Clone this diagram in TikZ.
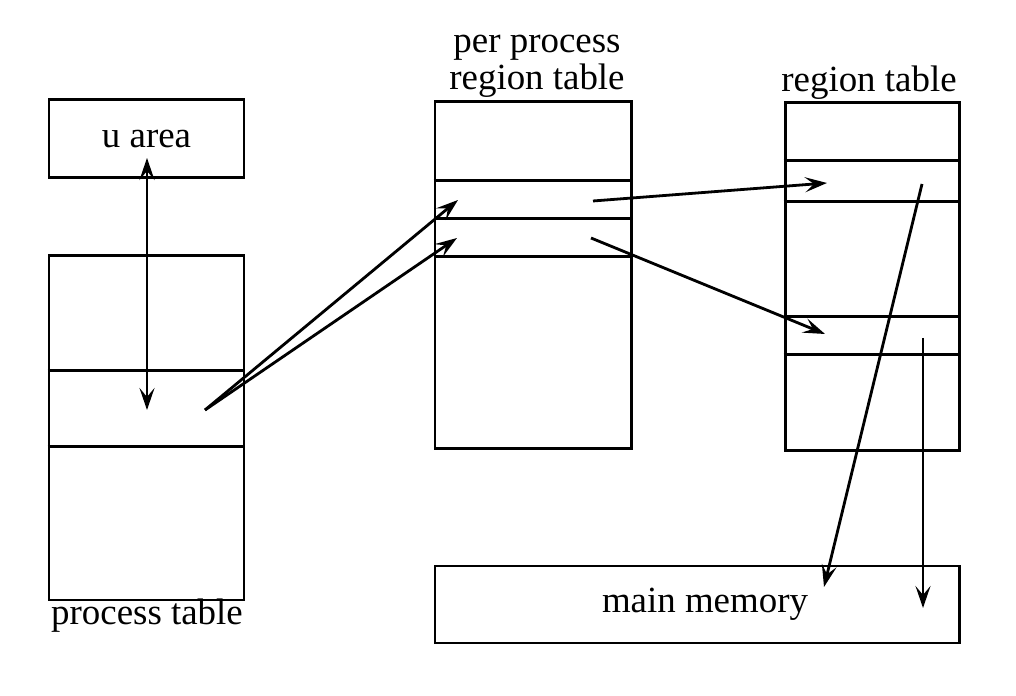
\documentclass[tikz,border=0pt]{standalone}
\usepackage{fontspec}
\setmainfont{Liberation Serif}
\usetikzlibrary{arrows.meta}
\tikzset{
  tbl/.style={draw, rectangle, inner sep=0, line width=0.85pt},
  lbl/.style={inner sep=0, font=\fontsize{10.5}{10.5}\selectfont},
  ptip/.tip={Stealth[length=2.2mm, width=1.5mm, inset=0.9mm]},
  ptr/.style={line width=0.8pt, -{ptip}},
  dptr/.style={line width=0.8pt, {ptip}-{ptip}},
}

\begin{document}
\begin{tikzpicture}
			%%%%% START %%%%%
			\useasboundingbox (0, 0) rectangle (10.16, 6.96);
			
			\node[tbl, lbl, minimum width=1.95cm, minimum height=0.78cm] (uarea) at (1.465, 5.57) {u area};
			
			\node[tbl, minimum width=1.95cm, minimum height=3.44cm] (ptab) at (1.465, 2.68) {};
			\draw[line width=0.85pt] (ptab.west |- 0, 3.25) -- (ptab.east |- 0, 3.25);
			\draw[line width=0.85pt] (ptab.west |- 0, 2.49) -- (ptab.east |- 0, 2.49);
			\node[lbl, anchor=base] (ptablbl) at (1.47, 0.71) {process table};
			
			\node[tbl, minimum width=1.96cm, minimum height=3.47cm] (preg) at (5.33, 4.205) {};
			\foreach \y in {5.15, 4.77, 4.39}
				\draw[line width=0.85pt] (preg.west |- 0, \y) -- (preg.east |- 0, \y);
			\node[lbl, align=center, anchor=south] (preglbl) at (5.37, 5.98) {per process\\region table};
			
			\node[tbl, minimum width=1.74cm, minimum height=3.48cm] (rtab) at (8.72, 4.19) {};
			\foreach \y in {5.35, 4.94, 3.79, 3.41}
				\draw[line width=0.85pt] (rtab.west |- 0, \y) -- (rtab.east |- 0, \y);
			\node[lbl, anchor=base] (rtablbl) at (8.69, 6.04) {region table};
			
			\node[tbl, lbl, minimum width=5.24cm, minimum height=0.77cm] (mem) at (6.97, 0.915) {\hspace{0.16cm}main memory};
			
			% ends of the pointers
			\coordinate (uslot) at (1.47, 5.38);
			\coordinate (pslot) at (1.47, 2.86);
			\coordinate (pslotr) at (2.05, 2.86);
			\coordinate (text) at (4.58, 4.96);
			\coordinate (data) at (4.57, 4.58);
			\coordinate (textr) at (5.93, 4.95);
			\coordinate (datar) at (5.91, 4.58);
			\coordinate (rtext) at (8.27, 5.13);
			\coordinate (rdata) at (8.25, 3.62);
			\coordinate (rtextr) at (9.22, 5.12);
			\coordinate (rdatar) at (9.23, 3.58);
			\coordinate (mtext) at (8.24, 1.09);
			\coordinate (mdata) at (9.23, 0.88);
			
			\draw[dptr] (uslot) -- (pslot);
			\draw[ptr] (pslotr) -- (text);
			\draw[ptr] (pslotr) -- (data);
			\draw[ptr] (textr) -- (rtext);
			\draw[ptr] (datar) -- (rdata);
			\draw[ptr] (rtextr) -- (mtext);
			\draw[ptr] (rdatar) -- (mdata);
			%%%%% END %%%%%
		\end{tikzpicture}
\end{document}
